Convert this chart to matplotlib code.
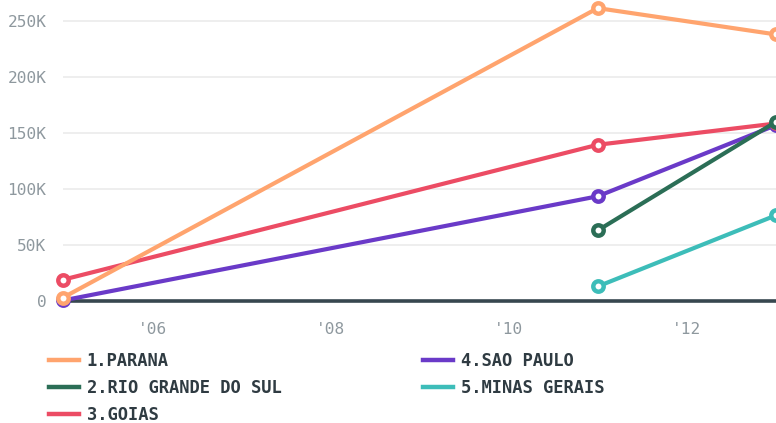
import matplotlib
matplotlib.use("Agg")
import matplotlib.pyplot as plt

# values (thousands of units, by year)
states = ["1.PARANA", "2.RIO GRANDE DO SUL", "3.GOIAS", "4.SAO PAULO", "5.MINAS GERAIS"]
colors = ["#FFA46E", "#2B6E56", "#EC4C64", "#6A3AC8", "#3DBDB9"]
years = {
    "1.PARANA": [2005, 2011, 2013],
    "2.RIO GRANDE DO SUL": [2011, 2013],
    "3.GOIAS": [2005, 2011, 2013],
    "4.SAO PAULO": [2005, 2011, 2013],
    "5.MINAS GERAIS": [2011, 2013],
}
values = {
    "1.PARANA": [3000, 261500, 238000],
    "2.RIO GRANDE DO SUL": [63000, 160000],
    "3.GOIAS": [19000, 139500, 158500],
    "4.SAO PAULO": [500, 93500, 157000],
    "5.MINAS GERAIS": [13000, 76500],
}
xticks = [2006, 2008, 2010, 2012]
xticklabels = ["'06", "'08", "'10", "'12"]
yticks = [0, 50000, 100000, 150000, 200000, 250000]
yticklabels = ["0", "50K", "100K", "150K", "200K", "250K"]

W, H = 776, 423
fig = plt.figure(figsize=(W / 100, H / 100), dpi=100)
ax = fig.add_axes([63 / W, 1 - 301 / H, (W - 63) / W, 296.8 / H])
ax.set_xlim(2005, 2013)
ax.set_ylim(0, 265000)

for s in ax.spines.values():
    s.set_visible(False)
for y in yticks[1:]:
    ax.axhline(y, color="#ebebeb", lw=1.2, zorder=0)
ax.axhline(0, color="#37474F", lw=2.6, zorder=1, clip_on=False)

handles = []
for i, name in enumerate(states):
    ln, = ax.plot(years[name], values[name], color=colors[i], lw=3,
                  marker="o", ms=7.5, mfc="white", mec=colors[i], mew=3.2,
                  zorder=10 - i, clip_on=False, solid_capstyle="round")
    handles.append(ln)

ax.set_xticks(xticks)
ax.set_xticklabels(xticklabels)
ax.set_yticks(yticks)
ax.set_yticklabels(yticklabels)
ax.tick_params(length=0, colors="#8E989E", labelsize=11.6)
ax.tick_params(axis="x", pad=15)
ax.tick_params(axis="y", pad=12)
for lab in ax.get_xticklabels() + ax.get_yticklabels():
    lab.set_family("DejaVu Sans Mono")

leg_handles = [plt.Line2D([], [], color=c, lw=3.2) for c in colors]
leg = fig.legend(leg_handles, states, loc="upper left", ncol=2,
                 bbox_to_anchor=(49 / W, 1 - 352 / H), frameon=False,
                 prop={"family": "DejaVu Sans Mono", "weight": "bold", "size": 12.3},
                 handlelength=1.75, handletextpad=0.45, columnspacing=8.3,
                 labelspacing=0.52, borderpad=0, borderaxespad=0)
for t in leg.get_texts():
    t.set_color("#2F3B42")

fig.savefig("out.png", dpi=100)
